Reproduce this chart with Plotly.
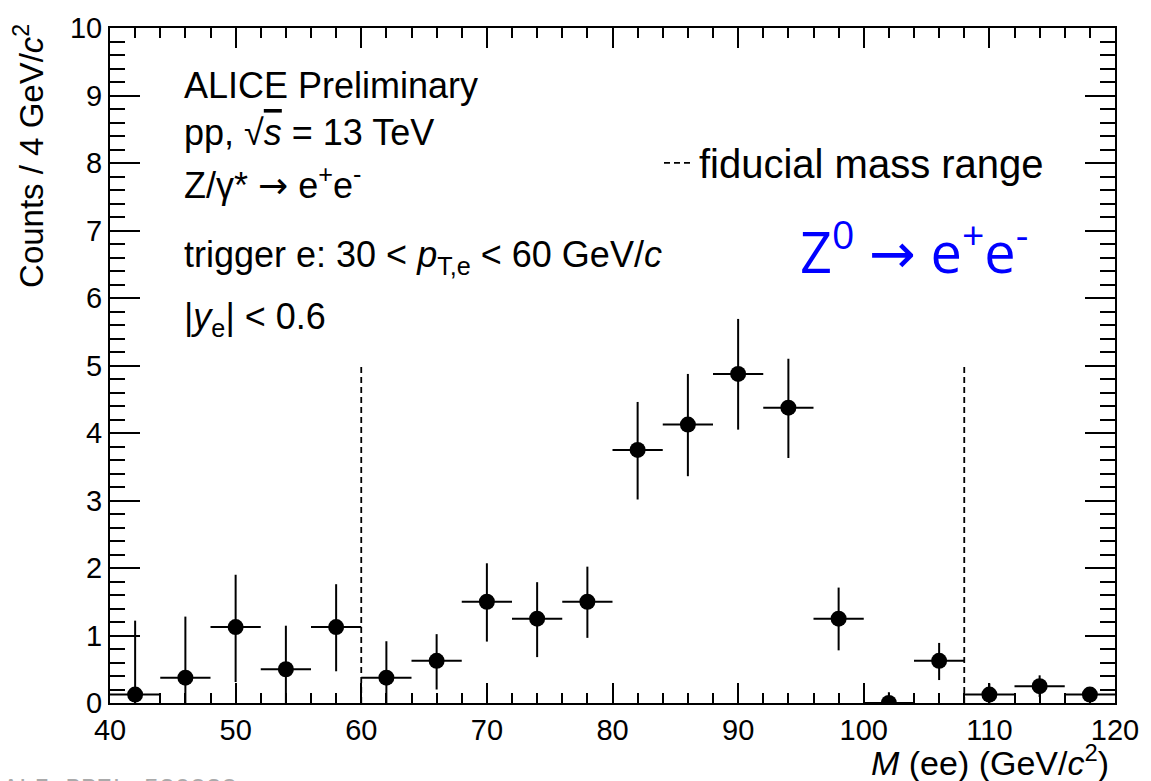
import plotly.graph_objects as go

# ---- data ----
mass_centers = [42, 46, 50, 54, 58, 62, 66, 70, 74, 78, 82, 86, 90, 94, 98, 102, 106, 110, 114, 118]
bin_half_width = [2, 2, 2, 2, 2, 2, 2, 2, 2, 2, 2, 2, 2, 2, 2, 2, 2, 2, 2, 2]
counts = [0.125, 0.375, 1.125, 0.5, 1.125, 0.375, 0.625, 1.5, 1.25, 1.5,
          3.75, 4.125, 4.875, 4.375, 1.25, 0.0, 0.625, 0.125, 0.25, 0.125]
err_up = [1.095, 0.905, 0.775, 0.645, 0.635, 0.54, 0.395, 0.57, 0.54, 0.52,
          0.71, 0.75, 0.815, 0.725, 0.46, 0.16, 0.265, 0.165, 0.16, 0.105]
err_down = [0.125, 0.375, 0.815, 0.5, 0.655, 0.375, 0.425, 0.59, 0.57, 0.535,
            0.735, 0.765, 0.825, 0.745, 0.47, 0.0, 0.285, 0.125, 0.16, 0.105]

fiducial_bounds = [60, 108]
fiducial_line_height = 5

x_range = [40, 120]
y_range = [0, 10]

FONT = "Liberation Sans"
ARROW = "<span style='font-family:DejaVu Sans'>→</span>"

fig = go.Figure()

# fiducial range lines (legend entry)
fx, fy = [], []
for b in fiducial_bounds:
    fx += [b, b, None]
    fy += [0, fiducial_line_height, None]
fig.add_trace(go.Scatter(
    x=fx, y=fy, mode="lines", name="fiducial mass range",
    line=dict(color="black", width=1.8, dash="6px,4px"),
    showlegend=True, hoverinfo="skip"))

# data points
fig.add_trace(go.Scatter(
    x=mass_centers, y=counts, mode="markers", showlegend=False,
    marker=dict(color="black", size=16, symbol="circle"),
    error_x=dict(type="data", array=bin_half_width, symmetric=True,
                 color="black", thickness=2, width=0),
    error_y=dict(type="data", array=err_up, arrayminus=err_down, symmetric=False,
                 color="black", thickness=2, width=0),
))

axis_common = dict(
    showline=True, linecolor="black", linewidth=2, mirror="allticks",
    ticks="inside", tickcolor="black", tickwidth=1.5,
    showgrid=False, zeroline=False, ticklabeloverflow="allow",
    tickfont=dict(family=FONT, size=29, color="black"),
)

fig.update_xaxes(range=x_range, dtick=10, tick0=40, ticklen=20,
                 minor=dict(dtick=2, ticks="inside", ticklen=10, tickwidth=1.5, tickcolor="black", showgrid=False),
                 **axis_common)
fig.update_yaxes(range=y_range, dtick=1, tick0=0, ticklen=30,
                 minor=dict(dtick=0.2, ticks="inside", ticklen=15, tickwidth=1.5, tickcolor="black", showgrid=False),
                 **axis_common)

L, R, T, B = 110, 25, 22, 78
W, H = 1151, 781
pw, ph = W - L - R, H - T - B

def px2paper_x(px):
    return (px - L) / pw

def px2paper_y(py):
    return (H - B - py) / ph

annotations = []
text_lines = [
    ("ALICE Preliminary", 80),
    ("pp, √<span style='text-decoration:overline'><i>s</i></span> = 13 TeV", 127),
    ("Z/γ* " + ARROW + " e<sup>+</sup>e<sup>-</sup>", 178),
    ("trigger e: 30 < <i>p</i><sub>T,e</sub> < 60 GeV/<i>c</i>", 253),
    ("|<i>y</i><sub>e</sub>| < 0.6", 316),
]
for txt, ypix in text_lines:
    annotations.append(dict(text=txt, xref="paper", yref="paper",
                            x=px2paper_x(183), y=px2paper_y(ypix),
                            xanchor="left", yanchor="middle", showarrow=False,
                            font=dict(family=FONT, size=36, color="black")))

annotations.append(dict(text="Z<sup>0</sup> " + ARROW + " e<sup>+</sup>e<sup>-</sup>",
                        xref="paper", yref="paper",
                        x=px2paper_x(806), y=px2paper_y(244),
                        xanchor="left", yanchor="middle", showarrow=False,
                        font=dict(family="Open Sans", size=56, color="#0000ff")))

annotations.append(dict(text="Counts / 4 GeV/<i>c</i><sup>2</sup>",
                        xref="paper", yref="paper", textangle=-90,
                        x=px2paper_x(28), y=px2paper_y(16),
                        xanchor="center", yanchor="top", showarrow=False,
                        font=dict(family=FONT, size=33, color="black")))

annotations.append(dict(text="<i>M</i> (ee) (GeV/<i>c</i><sup>2</sup>)",
                        xref="paper", yref="paper",
                        x=px2paper_x(1122), y=px2paper_y(761),
                        xanchor="right", yanchor="middle", showarrow=False,
                        font=dict(family=FONT, size=34, color="black")))

annotations.append(dict(text="ALI-PREL-530838",
                        xref="paper", yref="paper",
                        x=px2paper_x(0), y=px2paper_y(773),
                        xanchor="left", yanchor="top", showarrow=False,
                        font=dict(family="Liberation Mono", size=26, color="#aaaaaa")))

fig.update_layout(
    width=W, height=H,
    margin=dict(l=L, r=R, t=T, b=B, pad=0),
    paper_bgcolor="white", plot_bgcolor="white",
    font=dict(family=FONT, color="black"),
    annotations=annotations,
    legend=dict(x=px2paper_x(665), y=px2paper_y(158), xanchor="left", yanchor="middle",
                bgcolor="rgba(0,0,0,0)", borderwidth=0,
                font=dict(family=FONT, size=40, color="black")),
)

fig.write_html("out.html")
